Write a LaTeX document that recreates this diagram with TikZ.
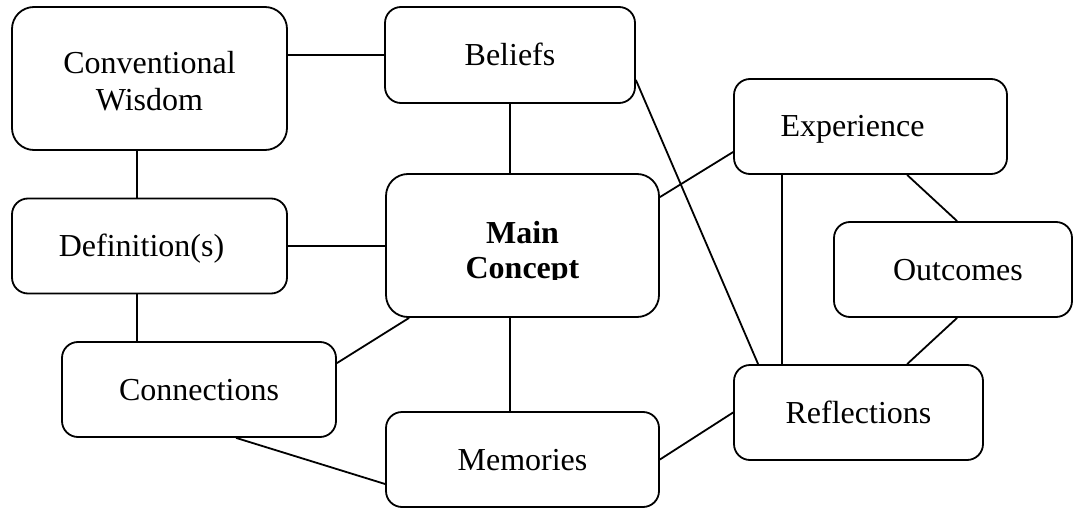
\documentclass[tikz,border=0pt]{standalone}
\usepackage{fontspec}
\setmainfont{Liberation Serif}
\begin{document}
\begin{tikzpicture}[x=1pt,y=-1pt,
  basebox/.style={draw=black, line width=1.8pt, rounded corners=16pt, inner sep=0pt,
    font=\fontsize{32}{37}\selectfont, align=center},
  box/.style={basebox, minimum height=95pt, text height=21pt, text depth=0pt},
  bigbox/.style={basebox, minimum height=143pt, rounded corners=22pt},
  btext/.style={align=center, inner sep=0pt},
  link/.style={line width=1.8pt}]
\useasboundingbox (0,0) rectangle (1073,508);
% boxes
\node[bigbox, minimum width=275pt] (cw) at (149.5,78.5) {};
\node[btext, font=\fontsize{32}{37}\selectfont] (cwtext) at (149.5,81.5) {Conventional\\Wisdom};
\node[box, minimum width=250pt, minimum height=96pt] (beliefs) at (510,55) {Beliefs};
\node[box, minimum width=273pt] (exp) at (870.5,126.5) {Experience\hspace*{36pt}};
\node[box, minimum width=275pt] (def) at (149.5,246) {Definition(s)\hspace*{16pt}};
\node[bigbox, minimum width=273pt] (main) at (522.5,245.5) {};
\begin{scope}
  \clip (386,170) rectangle (659,279);
  \node[btext, font=\fontsize{32}{35}\selectfont\bfseries] (maintext) at (522.5,253) {Main\\Concept};
\end{scope}
\node[box, minimum width=238pt] (out) at (953,269.5) {\hspace*{10pt}Outcomes};
\node[box, minimum width=274pt] (conn) at (199,389.5) {Connections};
\node[box, minimum width=273pt] (mem) at (522.5,459.5) {Memories};
\node[box, minimum width=249pt] (refl) at (858.5,412.5) {Reflections};
% connectors
\draw[link] (cw.east |- beliefs.west) -- (beliefs.west);
\draw[link] ([xshift=-12.5pt]cw.south) -- ([xshift=-12.5pt]cw.south |- def.north);
\draw[link] ([xshift=-12.5pt]def.south) -- ([xshift=-12.5pt]def.south |- conn.north);
\draw[link] (def.east) -- (def.east -| main.west);
\draw[link] (beliefs.south) -- (beliefs.south |- main.north);
\draw[link] ([yshift=-25pt]beliefs.east) -- ([xshift=25pt]refl.north west);
\draw[link] ([yshift=-24pt]main.north east) -- ([yshift=-25.5pt]exp.west);
\draw[link] ([xshift=49pt]exp.south west) -- ([xshift=49pt]exp.south west |- refl.north);
\draw[link] ([xshift=174pt]exp.south west) -- ([xshift=124pt]out.north west);
\draw[link] ([xshift=124pt]out.south west) -- ([xshift=174pt]refl.north west);
\draw[link] ([xshift=24pt]main.south west) -- ([yshift=-22pt]conn.north east);
\draw[link] (beliefs.south |- main.south) -- (beliefs.south |- mem.north);
\draw[link] ([xshift=175pt]conn.south west) -- ([yshift=-24.5pt]mem.west);
\draw[link] (mem.east) -- (refl.west);
\end{tikzpicture}
\end{document}
